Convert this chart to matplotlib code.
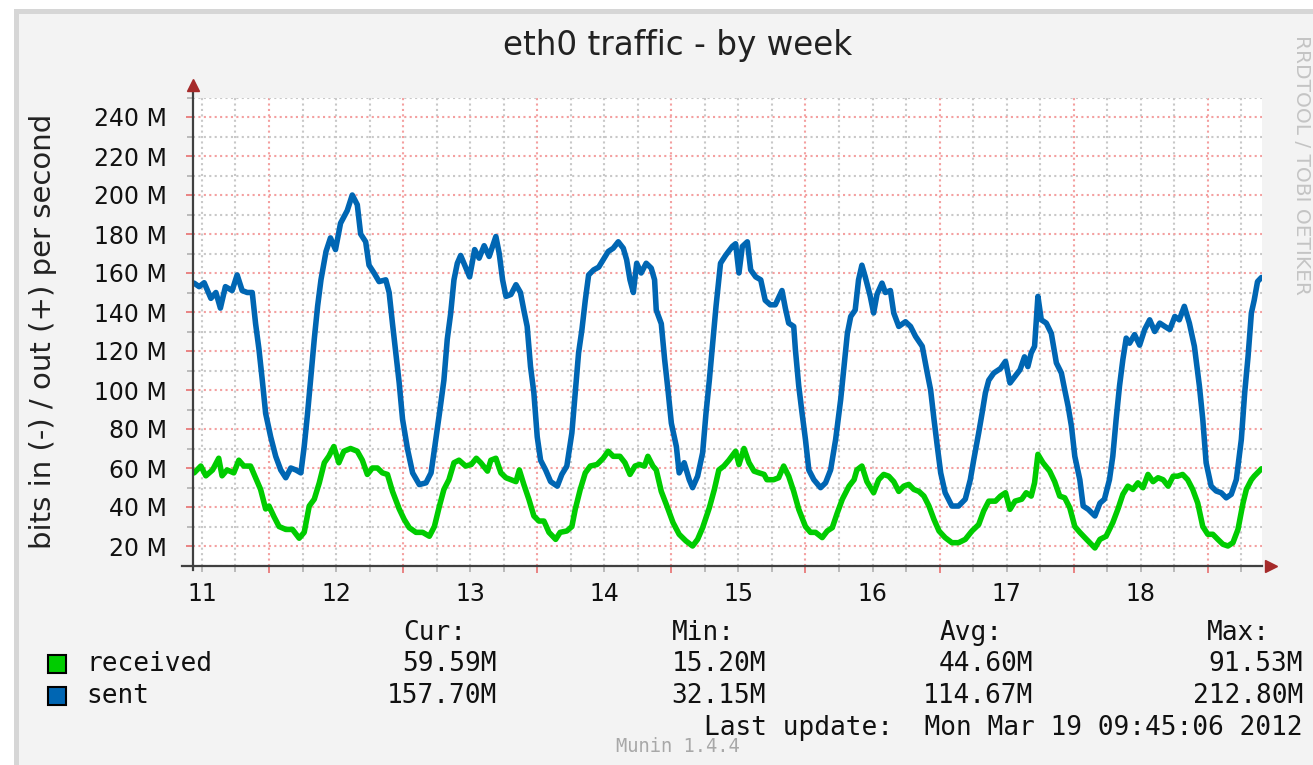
import matplotlib
matplotlib.use('Agg')
import matplotlib.pyplot as plt
from matplotlib.patches import Rectangle
from matplotlib.ticker import FixedLocator, FixedFormatter

# ---------------- data (hours since Mar 11 00:00, values in Mbit/s) ----------------
sent_h = [10.6, 11.5, 12.4, 13.6, 14.5, 15.3, 16.2, 17.4, 18.3, 19.2,
          20.1, 21.0, 21.6, 22.2, 22.8, 23.4, 24.3, 25.2, 26.1, 27.0,
          27.9, 28.8, 29.7, 30.3, 30.9, 31.5, 32.1, 32.7, 33.3, 34.2,
          35.0, 35.9, 36.8, 38.0, 38.9, 39.8, 40.4, 41.3, 41.9, 42.8,
          43.7, 44.9, 45.5, 46.1, 46.7, 47.3, 47.9, 48.8, 49.7, 50.9,
          52.1, 53.0, 53.6, 54.5, 55.3, 55.9, 56.5, 57.1, 57.7, 58.3,
          59.9, 60.8, 61.6, 62.5, 63.4, 64.6, 65.2, 65.8, 66.4, 67.3,
          68.2, 69.0, 69.6, 70.2, 70.8, 71.4, 72.0, 72.6, 73.5, 74.4,
          75.6, 76.4, 77.3, 78.2, 78.8, 79.4, 80.0, 80.6, 81.2, 82.1,
          83.0, 83.8, 84.7, 85.6, 86.5, 87.4, 88.0, 88.6, 89.2, 89.8,
          90.6, 91.5, 92.4, 93.0, 93.3, 94.2, 94.8, 95.4, 96.0, 96.9,
          97.4, 98.3, 99.2, 99.8, 100.7, 101.6, 102.2, 102.8, 103.4, 104.0,
          104.8, 105.7, 106.9, 107.5,
          108.1, 108.7, 109.6, 110.2, 111.1, 112.0, 112.8, 113.7, 114.6, 115.8,
          116.4, 117.0, 117.9, 118.2, 118.8, 119.4, 120.0, 120.6, 121.5, 122.7,
          123.6, 124.5, 125.4, 126.3, 126.9, 127.5, 128.1, 128.9, 129.5, 130.1,
          130.7, 131.6, 132.2, 132.8, 133.7, 134.3, 135.2, 135.8, 136.7, 137.9,
          138.8, 139.7, 140.9, 141.8, 142.4, 143.0, 143.6, 144.2, 145.0, 146.2,
          147.4, 148.6, 149.5, 150.1, 151.0, 151.6, 152.2, 152.8, 153.7, 154.9,
          155.8,
          156.6, 157.5, 158.4, 159.2, 159.8, 160.4, 161.0, 161.6, 162.2, 163.1,
          164.0, 164.9, 165.8, 166.4, 167.0, 167.6, 168.2, 169.1, 169.7, 170.6,
          171.8, 172.7, 173.5, 174.4, 175.0, 175.6, 176.2, 176.8, 177.4, 178.0,
          178.9, 179.8, 180.7, 181.6, 182.5, 183.4, 184.3, 185.2, 186.1, 186.9,
          187.8, 188.7, 189.6, 190.5, 191.1, 191.7, 192.6, 193.5, 194.4, 195.3,
          196.2, 197.1, 198.0, 198.6, 199.2, 199.8, 200.3, 200.9, 201.6]
sent_v = [154.8, 153, 155, 147, 150, 142, 153, 151, 159, 151,
          150, 150, 134, 121, 105, 88, 76, 66, 59, 55,
          60, 59, 57.5, 71, 88, 107, 126, 143, 156.5, 171,
          178, 172, 185.5, 192, 200, 195, 180, 176, 164, 160,
          155.6, 156.5, 150, 134, 119, 103.6, 85, 69.5, 57.5, 51.5,
          52.4, 57.5, 69.5, 88, 105, 126, 139, 156.5, 165, 169,
          158, 172, 167.6, 174, 168.5, 178.7, 170, 156.5, 148, 149,
          154, 150, 141, 132.6, 112, 98.5, 76, 64, 59, 53,
          50.7, 56.7, 61, 78, 98.5, 119, 131, 146, 159, 161.6,
          163, 166.8, 171, 172.7, 176, 172.7, 166.8, 156.5, 150, 165,
          160, 165, 162.5, 156.5, 141, 134, 115.6, 100, 83, 71,
          57.5, 62.7, 54, 49.9, 55.8, 67.8, 88, 105, 124, 143,
          165, 169, 173.6, 175,
          160, 173.6, 176, 161.6, 158, 156.5, 146, 143.7, 143.7, 151,
          142, 134.3, 132.6, 120.7, 102, 88, 74.6, 59, 54, 49.9,
          52.4, 59, 74.6, 95, 112, 129, 137.7, 141, 156.5, 164,
          158, 148, 139.5, 149, 154.8, 150, 151, 139.5, 132.6, 135,
          132.6, 127.5, 122.4, 108.7, 100, 85, 71, 57.5, 47.3, 40.5,
          40.5, 44, 54, 64, 78, 88, 98.5, 105, 108.7, 111,
          114.7,
          103.6, 107, 110.4, 117, 112, 119, 122.4, 148, 136, 134.3,
          129, 113.9, 108.7, 100, 91.7, 81.4, 66, 54, 40.5, 38.8,
          35.4, 42, 44, 54, 66, 85, 102, 115.6, 126.6, 124,
          128.4, 123, 131, 136, 130, 134.3, 132.6, 131, 137.7, 136,
          142.9, 134.3, 122.4, 102, 85, 62.7, 50.7, 48.2, 47.3, 44.7,
          46.5, 54, 74.6, 98.5, 117, 139.5, 146, 155.6, 157.7]

recv_h = [10.6, 11.8, 12.7, 13.9, 15.0, 15.6, 16.5, 17.7, 18.6, 19.5,
          20.7, 21.6, 22.5, 23.4, 24.0, 24.9, 25.8, 27.0, 28.2, 29.4,
          30.3, 31.2, 32.1, 33.0, 33.9, 34.7, 35.6, 36.5, 37.4, 38.6,
          39.8, 40.7, 41.6, 42.5, 43.4, 44.3, 45.2, 46.1, 47.3, 48.2,
          49.1, 50.3, 51.5, 52.7, 53.6, 54.5, 55.3, 56.2, 57.1, 58.0,
          59.2,
          60.2, 61.1, 61.9, 63.1, 63.7, 64.6, 65.5, 66.4, 67.3, 68.2,
          68.8, 69.6, 70.5, 71.4, 72.3, 73.2, 74.1, 75.3, 76.1, 77.3,
          78.2, 78.8, 79.7, 80.6, 81.5, 82.7, 83.8, 84.7, 85.6, 86.8,
          87.7, 88.6, 89.5, 90.3, 91.2, 91.8, 92.7, 93.3, 94.2, 95.1,
          96.3, 97.4, 98.6, 99.8, 100.7, 101.6, 102.8, 103.7, 104.5, 105.4,
          106.3, 107.5,
          108.1, 109.0, 109.9, 110.8, 111.7, 112.6, 113.1, 114.3, 115.2, 116.1,
          117.0, 117.9, 118.8, 120.0, 120.9, 121.8, 123.0, 123.9, 124.8, 125.7,
          126.6, 127.8, 128.7, 129.2, 130.1, 131.0, 132.2, 133.1, 134.0, 134.9,
          135.8, 136.7, 137.6, 138.5, 139.4, 140.3, 141.2, 142.1, 143.0, 143.9,
          145.0, 146.2, 147.4, 148.6, 149.8, 151.0, 151.9, 152.8, 154.0, 154.9,
          155.8,
          156.6, 157.5, 158.7, 159.5, 160.4, 161.0, 161.6, 162.5, 163.7, 164.6,
          165.5, 166.4, 167.3, 168.2, 169.1, 170.3, 171.8, 172.7, 173.8, 175.0,
          175.9, 176.8, 177.7, 178.6, 179.5, 180.4, 181.3, 182.2, 183.1, 184.0,
          184.9, 185.8, 186.6, 187.5, 188.4, 189.3, 190.2, 191.1, 192.0, 192.9,
          193.8, 194.7, 195.6, 196.5, 197.4, 198.3, 198.9, 199.8, 200.3, 201.2,
          201.6]
recv_v = [57.5, 61, 56, 59, 65, 56, 59, 57.5, 64, 61,
          61, 55, 49, 39, 40.5, 35, 30, 28.5, 28.5, 24,
          27, 40.5, 44, 52.4, 62.7, 66, 71, 62.7, 68.6, 70,
          68.6, 64, 56.7, 60, 60, 57.5, 56.7, 48, 39, 33.6,
          29.4, 27, 27, 25, 30, 40.5, 49, 54, 62.7, 64,
          61,
          61.8, 65, 62.7, 58.4, 64, 65, 57.5, 55, 54, 53,
          59, 51.6, 44, 35.4, 32.8, 32.8, 27, 23.4, 27, 27.7,
          30, 38.8, 49, 57.5, 61, 61.8, 65, 68.6, 66, 66,
          62.7, 56.7, 61, 61.8, 61, 66, 61, 59, 48, 41.3,
          32, 26, 22.6, 20, 23.4, 29.4, 39.6, 49, 59, 61,
          64, 68.6,
          61.8, 70, 62.7, 58.4, 57.5, 56.7, 54, 54, 55, 61,
          55.8, 48, 38.8, 30, 27, 27, 24.3, 27.7, 29.4, 37,
          44, 50.7, 54, 59, 61, 53, 47.3, 54, 56.7, 55.8,
          53, 48, 50.7, 51.6, 49, 48, 45.6, 40.5, 33.6, 27.7,
          24.3, 21.7, 21.7, 23.4, 27.7, 31, 38, 43, 43, 45.6,
          47.3,
          38.8, 43, 44, 47.3, 45.6, 52.4, 67, 62.7, 58.4, 53,
          45.6, 44.7, 39.6, 30, 27, 23.4, 19, 23.4, 25, 32,
          38.8, 46.5, 50.7, 49, 52.4, 49.9, 56.7, 53, 55, 54,
          50.7, 55.8, 55.8, 56.7, 54, 49, 42, 30, 26, 26,
          23.4, 20.9, 20, 21.7, 28.5, 42, 49, 54, 55.8, 58.4,
          59.6]

day_labels = ['11', '12', '13', '14', '15', '16', '17', '18']
y_major = [20, 40, 60, 80, 100, 120, 140, 160, 180, 200, 220, 240]
y_minor = [10, 30, 50, 70, 90, 110, 130, 150, 170, 190, 210, 230, 250]

legend_names = ['received', 'sent']
legend_colors = ['#00cc00', '#0066b3']
cur_vals = ['59.59M', '157.70M']
min_vals = ['15.20M', '32.15M']
avg_vals = ['44.60M', '114.67M']
max_vals = ['91.53M', '212.80M']

title = 'eth0 traffic - by week'
ylabel = 'bits in (-) / out (+) per second'
last_update = 'Last update:  Mon Mar 19 09:45:06 2012'
footer = 'Munin 1.4.4'
side_text = 'RRDTOOL / TOBI OETIKER'

# ---------------- figure ----------------
W, H = 1313, 765
fig = plt.figure(figsize=(W / 100, H / 100), dpi=100, facecolor='white')


def fx(px):
    return px / W


def fy(py):
    return 1 - py / H


# panel background with border
fig.patches.append(Rectangle((fx(14), 0), 1 - fx(14), fy(9), transform=fig.transFigure,
                             facecolor='#d6d6d6', edgecolor='none', zorder=-3))
fig.patches.append(Rectangle((fx(19), 0), 1 - fx(19), fy(14), transform=fig.transFigure,
                             facecolor='#f3f3f3', edgecolor='none', zorder=-2))

ax_l, ax_r, ax_b, ax_t = 193, 1262, 565.5, 97.5
ax = fig.add_axes([fx(ax_l), fy(ax_b), (ax_r - ax_l) / W, (ax_b - ax_t) / H])
ax.set_facecolor('white')
ax.set_xlim(10.4, 201.7)
ax.set_ylim(10, 250)

# ticks / grid
midnights = [24 * d for d in range(1, 9)]
six_hours = [h for h in range(6, 202, 6) if h % 24 != 0 and h > 10.4]
minor_labels = [day_labels[(h - 12) // 24] if h % 24 == 12 else '' for h in six_hours]

ax.xaxis.set_major_locator(FixedLocator(midnights))
ax.xaxis.set_major_formatter(FixedFormatter([''] * len(midnights)))
ax.xaxis.set_minor_locator(FixedLocator(six_hours))
ax.xaxis.set_minor_formatter(FixedFormatter(minor_labels))

ax.yaxis.set_major_locator(FixedLocator(y_major))
ax.yaxis.set_major_formatter(FixedFormatter([f'{v} M' for v in y_major]))
ax.yaxis.set_minor_locator(FixedLocator(y_minor))

red_grid = '#f4a0a0'
gray_grid = '#c8c8c8'
ax.grid(which='major', color=red_grid, linestyle=(0, (1, 1.6)), linewidth=1.5)
ax.grid(which='minor', color=gray_grid, linestyle=(0, (1, 1.6)), linewidth=1.5)
ax.set_axisbelow(True)

ax.tick_params(axis='x', which='major', length=5, width=1.2, color='#e87070', direction='out')
ax.tick_params(axis='x', which='minor', length=4, width=1.2, color='#b0b0b0', direction='out',
               labelsize=17, pad=8, labelcolor='#111111')
ax.tick_params(axis='y', which='major', length=5, width=1.2, color='#e87070', direction='out',
               labelsize=17, pad=14, labelcolor='#111111')
ax.tick_params(axis='y', which='minor', length=4, width=1.2, color='#b0b0b0', direction='out')

for s in ax.spines.values():
    s.set_visible(False)

# axis lines with arrows (rrdtool style)
ax.plot([-0.01, 1.0], [0, 0], transform=ax.transAxes, color='#404040', lw=1.6,
        clip_on=False, zorder=5)
ax.plot([0, 0], [-0.01, 1.02], transform=ax.transAxes, color='#404040', lw=1.6,
        clip_on=False, zorder=5)
ax.plot([1.008], [0], transform=ax.transAxes, marker='>', color='#a52a2a', ms=9,
        clip_on=False, zorder=6)
ax.plot([0], [1.026], transform=ax.transAxes, marker='^', color='#a52a2a', ms=9,
        clip_on=False, zorder=6)

# series
ax.plot(recv_h, recv_v, color=legend_colors[0], lw=4.0, solid_joinstyle='round',
        solid_capstyle='round', zorder=4)
ax.plot(sent_h, sent_v, color=legend_colors[1], lw=4.0, solid_joinstyle='round',
        solid_capstyle='round', zorder=4)

# ---------------- texts ----------------
fig.text(fx(678), fy(45), title, ha='center', va='center', fontsize=23.5, color='#222222')
fig.text(fx(43), fy(331), ylabel, rotation=90, ha='center', va='center', fontsize=21,
         color='#222222')

mono = 'DejaVu Sans Mono'
msz = 18.8
headers = [('Cur:', 403), ('Min:', 672), ('Avg:', 940), ('Max:', 1207)]
for txt, x in headers:
    fig.text(fx(x), fy(633), txt, ha='left', va='center', family=mono, fontsize=msz,
             color='#111111')

row_y = [664, 696]
col_right = [497, 766, 1033, 1303]
for i, name in enumerate(legend_names):
    y = row_y[i]
    fig.patches.append(Rectangle((fx(48), fy(y + 9)), 18 / W, 18 / H, transform=fig.transFigure,
                                 facecolor=legend_colors[i], edgecolor='black', lw=1.5))
    fig.text(fx(86), fy(y), name, ha='left', va='center', family=mono, fontsize=msz,
             color='#111111')
    for vals, xr in zip([cur_vals, min_vals, avg_vals, max_vals], col_right):
        fig.text(fx(xr), fy(y), vals[i], ha='right', va='center', family=mono, fontsize=msz,
                 color='#111111')

fig.text(fx(1303), fy(728), last_update, ha='right', va='center', family=mono, fontsize=msz,
         color='#111111')
fig.text(fx(678), fy(746), footer, ha='center', va='center', family=mono, fontsize=13.5,
         color='#a8a8a8')
fig.text(fx(1302), fy(165), side_text, rotation=270, ha='center', va='center', fontsize=14.5,
         color='#c4c4c4')

fig.savefig('out.png', dpi=100, facecolor=fig.get_facecolor())
